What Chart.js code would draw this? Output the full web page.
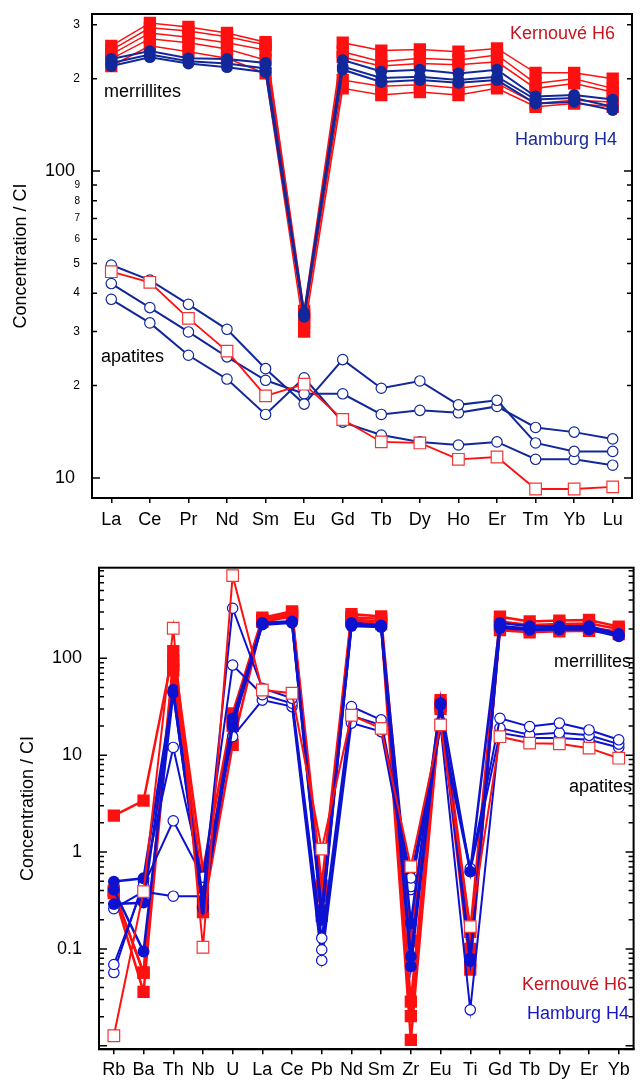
<!DOCTYPE html>
<html>
<head>
<meta charset="utf-8">
<script src="https://cdn.jsdelivr.net/npm/chart.js@4.4.1/dist/chart.umd.min.js"></script>
<style>
  body { margin: 0; background: #fff; }
  canvas { position: absolute; left: 0; }
  #top { top: 0; }
  #bottom { top: 540px; }
</style>
</head>
<body>
<canvas id="top" width="643" height="540"></canvas>
<canvas id="bottom" width="643" height="541"></canvas>
<script>
// REE pattern (upper panel)
const reeLabels = ['La', 'Ce', 'Pr', 'Nd', 'Sm', 'Eu', 'Gd', 'Tb', 'Dy', 'Ho', 'Er', 'Tm', 'Yb', 'Lu'];
const kerMer1 = [256, 304, 295, 282, 263, 35, 262, 247, 249, 245, 251, 209, 209, 200];
const kerMer2 = [248, 293, 286, 274, 258, 34, 245, 227, 233, 230, 239, 193, 200, 186];
const kerMer3 = [240, 282, 273, 262, 248, 33, 235, 220, 224, 222, 227, 186, 193, 181];
const kerMer4 = [232, 270, 262, 250, 230, 32, 198, 189, 191, 186, 193, 166, 170, 168];
const kerMer5 = [220, 256, 245, 233, 208, 30, 186, 177, 181, 177, 186, 162, 166, 162];
const hamMer1 = [232, 246, 233, 232, 225, 34.5, 230, 211, 214, 208, 214, 175, 177, 171];
const hamMer2 = [225, 240, 228, 224, 216, 34, 219, 201, 203, 198, 203, 171, 173, 162];
const hamMer3 = [220, 235, 224, 218, 210, 33.5, 214, 195, 198, 194, 198, 166, 168, 158];
const hamAp1 = [49.4, 44.1, 36.8, 30.5, 22.7, 17.4, 24.3, 19.6, 20.7, 17.3, 17.9, 13.0, 12.2, 12.2];
const hamAp2 = [43.0, 35.9, 29.9, 24.8, 20.8, 18.8, 18.8, 16.1, 16.6, 16.3, 17.1, 14.6, 14.1, 13.4];
const hamAp3 = [38.2, 32.0, 25.1, 21.0, 16.1, 21.2, 15.2, 13.8, 13.1, 12.8, 13.1, 11.5, 11.5, 11.0];
const kerAp = [47.0, 43.4, 33.1, 25.9, 18.5, 20.2, 15.5, 13.1, 13.0, 11.5, 11.7, 9.2, 9.2, 9.35];

// trace element pattern (lower panel)
const traceLabels = ['Rb', 'Ba', 'Th', 'Nb', 'U', 'La', 'Ce', 'Pb', 'Nd', 'Sm', 'Zr', 'Eu', 'Ti', 'Gd', 'Tb', 'Dy', 'Er', 'Yb'];
const kerMerT1 = [2.37, 3.39, 118, 0.65, 27, 262, 305, 0.45, 285, 270, 0.12, 37, 0.15, 268, 240, 245, 248, 212];
const kerMerT2 = [0.40, 0.057, 95, 0.40, 23, 250, 290, 0.35, 265, 255, 0.0286, 34, 0.10, 240, 220, 225, 228, 200];
const kerMerT3 = [0.376, 0.036, 75, 0.24, 12.8, 245, 280, 0.25, 250, 240, 0.0202, 30, 0.061, 215, 200, 205, 208, 188];
const kerMerT4 = [0.39, 0.057, 85, 0.30, 20, 238, 270, 0.22, 240, 225, 0.0115, 32, 0.075, 195, 185, 190, 192, 178];
const hamMerT1 = [0.495, 0.536, 47, 0.32, 24, 232, 240, 0.25, 232, 218, 0.184, 34.3, 0.627, 232, 214, 214, 214, 178];
const hamMerT2 = [0.406, 0.094, 44, 0.28, 19.7, 226, 236, 0.20, 222, 214, 0.084, 34, 0.08, 215, 202, 205, 205, 172];
const hamMerT3 = [0.29, 0.30, 45, 0.26, 22, 222, 232, 0.22, 215, 210, 0.066, 33, 0.075, 205, 196, 198, 198, 168];
const hamApT1 = [0.26, 0.39, 0.35, 0.35, 328, 49, 38.6, 0.129, 31.7, 23.1, 0.54, 22, 0.68, 24, 19.7, 21.4, 18.2, 14.4];
const hamApT2 = [0.069, 0.45, 2.1, 0.55, 85, 42, 34.3, 0.098, 25.5, 20.5, 0.44, 20, 0.0235, 19, 16.2, 17, 16, 13];
const hamApT3 = [0.057, 0.5, 12, 0.5, 15.5, 37, 31.7, 0.076, 21.4, 17.5, 0.41, 19, 0.63, 17, 15, 15, 14.4, 12];
const kerApT = [0.0127, 0.39, 204, 0.104, 712, 47, 43.5, 1.07, 25.8, 18.9, 0.707, 20.5, 0.17, 15.5, 13.3, 13.1, 11.8, 9.3];

Chart.defaults.font.family = '"Liberation Sans", Arial, sans-serif';
Chart.defaults.color = '#000';

const RED = '#ff1010';
const NAVY = '#12289a';
const BLUE = '#0c12d0';

function sig(v) {
    const e = Math.floor(Math.log10(v) + 1e-9);
    const s = v / Math.pow(10, e);
    return Math.abs(s - Math.round(s)) < 1e-6 ? Math.round(s) : null;
}

function filledSquare(data, lw) {
    return { data, borderColor: RED, borderWidth: lw, pointStyle: 'rect', pointRadius: 8.7,
        pointBackgroundColor: RED, pointBorderColor: RED, pointBorderWidth: 0 };
}
function filledCircle(data, color, lw) {
    return { data, borderColor: color, borderWidth: lw, pointStyle: 'circle', pointRadius: 5.9,
        pointBackgroundColor: color, pointBorderColor: color, pointBorderWidth: 0 };
}
function openSquare(data, lw) {
    return { data, borderColor: RED, borderWidth: lw, pointStyle: 'rect', pointRadius: 8.2,
        pointBackgroundColor: '#fff', pointBorderColor: '#f03838', pointBorderWidth: 1.2 };
}
function openCircle(data, color, lw) {
    return { data, borderColor: color, borderWidth: lw, pointStyle: 'circle', pointRadius: 5.2,
        pointBackgroundColor: '#fff', pointBorderColor: color, pointBorderWidth: 1.2 };
}

// inward ticks on both sides plus the closed frame
const frame = {
    id: 'frame',
    afterDraw(chart) {
        const { ctx, chartArea: a, scales: { y } } = chart;
        ctx.save();
        ctx.strokeStyle = '#000';
        ctx.lineWidth = 1.5;
        y.ticks.forEach(t => {
            const s = sig(t.value);
            if (s === null) return;
            const py = y.getPixelForValue(t.value);
            const len = s === 1 ? 8 : 5;
            ctx.beginPath();
            ctx.moveTo(a.left, py); ctx.lineTo(a.left + len, py);
            ctx.moveTo(a.right, py); ctx.lineTo(a.right - len, py);
            ctx.stroke();
        });
        ctx.lineWidth = 2;
        ctx.strokeRect(a.left, a.top, a.right - a.left, a.bottom - a.top);
        ctx.restore();
    }
};

function notes(items) {
    return {
        id: 'notes',
        afterDraw(chart) {
            const ctx = chart.ctx;
            ctx.save();
            ctx.font = '18px "Liberation Sans", Arial, sans-serif';
            ctx.textBaseline = 'middle';
            items.forEach(n => {
                ctx.fillStyle = n.color;
                ctx.textAlign = n.align;
                ctx.fillText(n.text, n.x, n.y);
            });
            ctx.restore();
        }
    };
}

function xAxis(height, pad) {
    return {
        type: 'category',
        offset: true,
        grid: { offset: false, drawOnChartArea: false, drawTicks: true, tickLength: 5, color: '#000', lineWidth: 1.5 },
        border: { display: true, color: '#000', width: 2 },
        ticks: { font: { size: 18 }, color: '#000', padding: pad, autoSkip: false, maxRotation: 0 },
        afterFit: s => { s.height = height; }
    };
}

new Chart(document.getElementById('top'), {
    type: 'line',
    data: {
        labels: reeLabels,
        datasets: [
            openSquare(kerAp, 1.8),
            openCircle(hamAp1, NAVY, 2),
            openCircle(hamAp2, NAVY, 2),
            openCircle(hamAp3, NAVY, 2),
            filledCircle(hamMer1, NAVY, 2),
            filledCircle(hamMer2, NAVY, 2),
            filledCircle(hamMer3, NAVY, 2),
            filledSquare(kerMer1, 1.5),
            filledSquare(kerMer2, 1.5),
            filledSquare(kerMer3, 1.5),
            filledSquare(kerMer4, 1.5),
            filledSquare(kerMer5, 1.5)
        ]
    },
    options: {
        responsive: false,
        animation: false,
        layout: { padding: { left: 0, right: 11, top: 14, bottom: 0 } },
        elements: { line: { tension: 0 } },
        plugins: { legend: { display: false }, tooltip: { enabled: false } },
        scales: {
            x: xAxis(42, 6),
            y: {
                type: 'logarithmic',
                min: 8.6,
                max: 325,
                grid: { display: false },
                border: { display: true, color: '#000', width: 2 },
                title: { display: true, text: 'Concentration / CI', font: { size: 18 }, color: '#000', padding: { top: 10, bottom: 0 } },
                ticks: {
                    autoSkip: false,
                    padding: 4,
                    color: '#000',
                    callback: v => {
                        const s = sig(v);
                        if (s === null || v < 10) return '';
                        // decade labels sit a little further from the axis
                        return s === 1 ? String(v) + ' ' : String(s);
                    },
                    font: c => {
                        const s = c.tick ? sig(c.tick.value) : 1;
                        if (s === 1) return { size: 18 };
                        return { size: s <= 5 ? 12 : 10 };
                    }
                },
                afterFit: s => { s.width = 92; }
            }
        }
    },
    plugins: [frame, notes([
        { text: 'Kernouvé H6', x: 615, y: 34, align: 'right', color: '#c8141e' },
        { text: 'Hamburg H4', x: 617, y: 140, align: 'right', color: '#1a2a9a' },
        { text: 'merrillites', x: 104, y: 92, align: 'left', color: '#000' },
        { text: 'apatites', x: 101, y: 357, align: 'left', color: '#000' }
    ])]
});

new Chart(document.getElementById('bottom'), {
    type: 'line',
    data: {
        labels: traceLabels,
        datasets: [
            openSquare(kerApT, 2),
            filledCircle(hamMerT1, BLUE, 2.5),
            filledCircle(hamMerT2, BLUE, 2.5),
            filledCircle(hamMerT3, BLUE, 2.5),
            openCircle(hamApT1, BLUE, 2),
            openCircle(hamApT2, BLUE, 2),
            openCircle(hamApT3, BLUE, 2),
            filledSquare(kerMerT1, 2.5),
            filledSquare(kerMerT2, 2.5),
            filledSquare(kerMerT3, 2.5),
            filledSquare(kerMerT4, 2.5)
        ]
    },
    options: {
        responsive: false,
        animation: false,
        layout: { padding: { left: 0, right: 1.5, top: 27.7, bottom: 0 } },
        elements: { line: { tension: 0 } },
        plugins: { legend: { display: false }, tooltip: { enabled: false } },
        scales: {
            x: xAxis(31.7, 5),
            y: {
                type: 'logarithmic',
                min: 0.0092,
                max: 860,
                grid: { display: false },
                border: { display: true, color: '#000', width: 2 },
                title: { display: true, text: 'Concentration / CI', font: { size: 18 }, color: '#000', padding: { top: 17, bottom: 0 } },
                ticks: {
                    autoSkip: false,
                    padding: 9,
                    color: '#000',
                    font: { size: 18 },
                    callback: v => {
                        const s = sig(v);
                        if (s !== 1 || v < 0.09 || v > 110) return '';
                        return String(v);
                    }
                },
                afterFit: s => { s.width = 99; }
            }
        }
    },
    plugins: [frame, notes([
        { text: 'merrillites', x: 631, y: 122, align: 'right', color: '#000' },
        { text: 'apatites', x: 632, y: 247, align: 'right', color: '#000' },
        { text: 'Kernouvé H6', x: 627, y: 445, align: 'right', color: '#c8141e' },
        { text: 'Hamburg H4', x: 629, y: 474, align: 'right', color: '#1515c8' }
    ])]
});
</script>
</body>
</html>
